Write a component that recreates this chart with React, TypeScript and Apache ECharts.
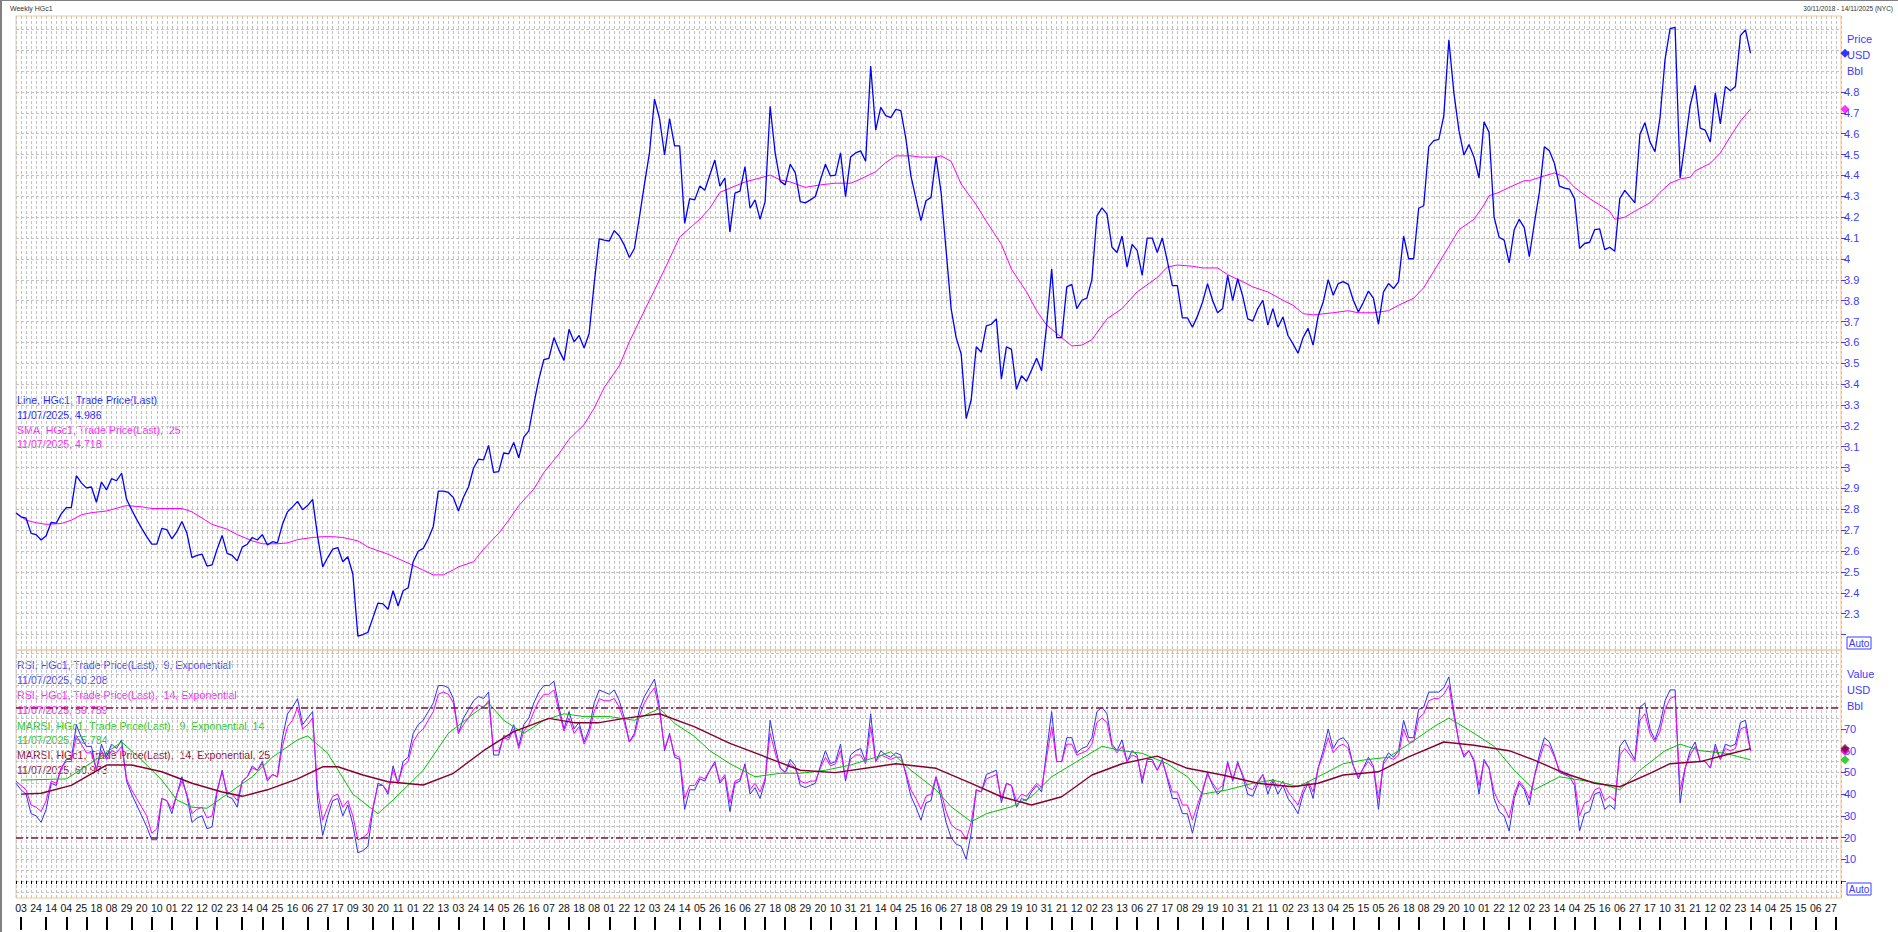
import React, { useEffect, useRef } from "react";
import * as echarts from "echarts";

// ---------- time axis (weekly, Friday closes) ----------
const DAY = 86400000;
const FIRST_FRIDAY = Date.UTC(2018, 10, 30); // 30/11/2018
const AXIS_WEEKS = 364; // through 14/11/2025
const weekDates: number[] = Array.from({ length: AXIS_WEEKS }, (_, i) => FIRST_FRIDAY + i * 7 * DAY);
const categories = weekDates.map((t) => new Date(t).toISOString().slice(0, 10));
const weekTickLabels = weekDates.map((t) => String(new Date(t - 4 * DAY).getUTCDate()).padStart(2, "0"));
const monthStartWeeks = weekDates.map((t) => new Date(t - 4 * DAY).getUTCDate() <= 7);

// ---------- price panel ----------
const price: number[] = [
  2.782, 2.764, 2.758, 2.685, 2.679, 2.653, 2.673, 2.738, 2.734, 2.778,
  2.808, 2.808, 2.961, 2.927, 2.903, 2.907, 2.834, 2.931, 2.893, 2.947,
  2.937, 2.973, 2.848, 2.798, 2.752, 2.709, 2.669, 2.633, 2.633, 2.709,
  2.703, 2.659, 2.693, 2.742, 2.685, 2.569, 2.579, 2.585, 2.528, 2.534,
  2.609, 2.675, 2.589, 2.579, 2.553, 2.619, 2.633, 2.665, 2.653, 2.679,
  2.629, 2.645, 2.639, 2.728, 2.788, 2.812, 2.838, 2.798, 2.818, 2.848,
  2.669, 2.524, 2.569, 2.609, 2.617, 2.549, 2.573, 2.490, 2.192, 2.200,
  2.211, 2.281, 2.351, 2.347, 2.321, 2.410, 2.337, 2.410, 2.424, 2.549,
  2.599, 2.613, 2.659, 2.718, 2.887, 2.887, 2.881, 2.856, 2.792, 2.858,
  2.907, 2.997, 3.041, 3.037, 3.106, 2.977, 2.981, 3.070, 3.066, 3.120,
  3.047, 3.146, 3.176, 3.305, 3.424, 3.518, 3.524, 3.623, 3.563, 3.514,
  3.663, 3.603, 3.633, 3.573, 3.643, 3.882, 4.096, 4.090, 4.086, 4.136,
  4.110, 4.066, 4.007, 4.050, 4.200, 4.359, 4.508, 4.766, 4.673, 4.498,
  4.673, 4.542, 4.542, 4.170, 4.289, 4.283, 4.349, 4.329, 4.402, 4.474,
  4.349, 4.388, 4.130, 4.315, 4.325, 4.442, 4.243, 4.283, 4.190, 4.275,
  4.732, 4.508, 4.373, 4.355, 4.454, 4.414, 4.275, 4.269, 4.283, 4.299,
  4.379, 4.454, 4.398, 4.402, 4.508, 4.299, 4.488, 4.508, 4.518, 4.468,
  4.925, 4.617, 4.726, 4.687, 4.677, 4.717, 4.711, 4.577, 4.398, 4.289,
  4.184, 4.279, 4.295, 4.488, 4.320, 4.041, 3.762, 3.623, 3.544, 3.235,
  3.325, 3.579, 3.553, 3.679, 3.687, 3.713, 3.424, 3.579, 3.567, 3.375,
  3.440, 3.414, 3.468, 3.524, 3.464, 3.683, 3.951, 3.623, 3.623, 3.866,
  3.878, 3.762, 3.802, 3.812, 3.901, 4.206, 4.245, 4.215, 4.056, 4.031,
  4.110, 3.961, 4.070, 4.041, 3.921, 4.100, 4.100, 4.031, 4.100, 3.991,
  3.872, 3.872, 3.718, 3.718, 3.673, 3.726, 3.792, 3.882, 3.802, 3.742,
  3.762, 3.921, 3.802, 3.905, 3.822, 3.713, 3.703, 3.762, 3.802, 3.683,
  3.762, 3.673, 3.722, 3.633, 3.593, 3.548, 3.623, 3.667, 3.587, 3.726,
  3.792, 3.901, 3.826, 3.882, 3.891, 3.878, 3.802, 3.746, 3.792, 3.846,
  3.812, 3.687, 3.842, 3.882, 3.858, 3.891, 4.110, 4.001, 4.001, 4.243,
  4.255, 4.538, 4.567, 4.573, 4.687, 5.050, 4.796, 4.617, 4.498, 4.548,
  4.488, 4.388, 4.657, 4.607, 4.200, 4.104, 4.090, 3.981, 4.140, 4.190,
  4.150, 4.011, 4.170, 4.319, 4.538, 4.518, 4.458, 4.349, 4.339, 4.335,
  4.289, 4.050, 4.074, 4.080, 4.140, 4.144, 4.045, 4.056, 4.037, 4.289,
  4.329, 4.299, 4.269, 4.597, 4.653, 4.561, 4.514, 4.677, 4.955, 5.104,
  5.110, 4.388, 4.557, 4.736, 4.832, 4.627, 4.617, 4.561, 4.796, 4.647,
  4.826, 4.806, 4.826, 5.070, 5.098, 4.986,
];

// SMA(25) read at [week index, value]
const sma25: [number, number][] = [
  [0, 2.782], [2, 2.748], [4, 2.736], [6, 2.728], [9, 2.732], [11, 2.748], [13, 2.774], [15, 2.784],
  [18, 2.792], [21, 2.812], [22, 2.818], [25, 2.812], [27, 2.804], [30, 2.804], [33, 2.804], [35, 2.788],
  [37, 2.758], [39, 2.728], [42, 2.705], [44, 2.679], [47, 2.649], [49, 2.635], [52, 2.635], [54, 2.639],
  [56, 2.655], [59, 2.665], [61, 2.669], [63, 2.669], [65, 2.665], [68, 2.649], [70, 2.619], [74, 2.585],
  [77, 2.553], [80, 2.52], [83, 2.486], [85, 2.486], [87, 2.51], [88, 2.524], [91, 2.549], [93, 2.609],
  [96, 2.685], [98, 2.748], [100, 2.818], [103, 2.897], [105, 2.977], [108, 3.066], [110, 3.136], [113, 3.206],
  [115, 3.285], [117, 3.384], [120, 3.488], [122, 3.603], [124, 3.703], [126, 3.802], [127, 3.85], [129, 3.95],
  [132, 4.105], [136, 4.19], [138, 4.243], [140, 4.319], [143, 4.349], [145, 4.369], [148, 4.388], [150, 4.402],
  [152, 4.379], [154, 4.369], [157, 4.343], [160, 4.355], [163, 4.363], [166, 4.363], [168, 4.383], [171, 4.418],
  [173, 4.462], [175, 4.494], [178, 4.494], [180, 4.488], [183, 4.488], [184, 4.494], [186, 4.468], [188, 4.359],
  [191, 4.259], [193, 4.18], [196, 4.07], [198, 3.951], [201, 3.842], [203, 3.752], [205, 3.683], [208, 3.623],
  [210, 3.583], [212, 3.587], [214, 3.613], [217, 3.713], [220, 3.762], [223, 3.842], [227, 3.911], [229, 3.961],
  [231, 3.971], [234, 3.965], [236, 3.957], [239, 3.957], [241, 3.925], [244, 3.891], [246, 3.866], [249, 3.842],
  [252, 3.802], [254, 3.778], [256, 3.738], [258, 3.732], [262, 3.742], [265, 3.752], [267, 3.742], [270, 3.742],
  [273, 3.752], [275, 3.778], [278, 3.812], [280, 3.862], [282, 3.941], [285, 4.06], [287, 4.14], [290, 4.19],
  [292, 4.259], [293, 4.303], [295, 4.319], [297, 4.343], [300, 4.375], [301, 4.375], [304, 4.398], [306, 4.412],
  [308, 4.394], [310, 4.343], [313, 4.289], [315, 4.259], [317, 4.229], [318, 4.19], [320, 4.2], [322, 4.229],
  [325, 4.269], [327, 4.319], [329, 4.363], [331, 4.383], [333, 4.392], [334, 4.422], [337, 4.458], [339, 4.508],
  [341, 4.587], [343, 4.661], [345, 4.718],
];

// ---------- RSI panel (weekly estimates read off the lower pane) ----------
const rsi9: number[] = [
  45, 42, 40, 31, 30, 27, 33, 45, 44, 52,
  56, 56, 72, 66, 62, 62, 51, 63, 57, 63,
  61, 65, 46, 40, 35, 30, 25, 19, 19, 38,
  37, 31, 40, 48, 39, 27, 29, 30, 24, 25,
  41, 51, 39, 38, 34, 46, 48, 53, 51, 55,
  46, 49, 48, 66, 77, 80, 84, 72, 75, 78,
  37, 21, 30, 37, 38, 30, 35, 26, 13, 14,
  16, 33, 45, 44, 40, 53, 45, 55, 57, 68,
  72, 74, 78, 82, 90, 90, 89, 84, 68, 75,
  79, 83, 85, 84, 87, 58, 58, 67, 66, 72,
  62, 72, 75, 82, 87, 90, 90, 92, 80, 70,
  78, 70, 73, 64, 70, 82, 88, 87, 86, 88,
  83, 75, 64, 68, 79, 85, 89, 93, 80, 60,
  68, 57, 56, 33, 42, 42, 47, 46, 51, 55,
  45, 48, 32, 45, 46, 54, 40, 43, 38, 46,
  74, 62, 52, 50, 56, 53, 44, 43, 44, 45,
  53, 60, 54, 55, 63, 46, 58, 60, 61, 55,
  77, 55, 60, 58, 57, 59, 58, 49, 39, 34,
  28, 36, 37, 48, 38, 27, 20, 17, 16, 10,
  22, 42, 41, 49, 50, 51, 36, 45, 44, 34,
  38, 37, 41, 44, 41, 60, 78, 55, 55, 66,
  66, 59, 61, 62, 66, 78, 80, 77, 63, 60,
  65, 55, 60, 58, 45, 56, 56, 51, 56, 47,
  38, 38, 31, 31, 22, 32, 41, 50, 44, 40,
  42, 55, 46, 55, 48, 40, 39, 45, 49, 40,
  46, 40, 44, 38, 35, 31, 40, 45, 38, 52,
  60, 70, 61, 65, 66, 63, 53, 47, 52, 57,
  53, 33, 55, 59, 57, 60, 74, 66, 66, 79,
  80, 87, 87, 87, 89, 94, 78, 64, 57, 60,
  55, 40, 56, 52, 38, 32, 30, 23, 38, 45,
  42, 35, 48, 58, 66, 64, 58, 50, 49, 48,
  44, 23, 31, 32, 40, 41, 33, 35, 33, 62,
  65, 60, 56, 80, 82, 70, 65, 72, 83, 88,
  88, 36, 52, 60, 64, 55, 55, 52, 63, 56,
  63, 62, 63, 73, 74, 60.208,
];

const rsi14: number[] = [
  46, 44, 42, 35, 34, 32, 37, 46, 45, 52,
  55, 55, 67, 63, 59, 59, 51, 60, 56, 60,
  59, 62, 47, 42, 38, 34, 30, 22, 24, 38,
  37, 33, 40, 46, 40, 31, 33, 34, 29, 30,
  42, 50, 41, 40, 37, 46, 48, 52, 51, 54,
  47, 49, 48, 62, 71, 74, 80, 70, 72, 75,
  42, 28, 34, 39, 40, 34, 37, 30, 19, 20,
  22, 34, 44, 44, 41, 51, 45, 53, 55, 64,
  68, 70, 74, 78, 86, 87, 86, 82, 68, 72,
  75, 79, 81, 80, 83, 60, 60, 66, 65, 70,
  61, 69, 72, 78, 83, 86, 86, 88, 78, 69,
  75, 68, 71, 63, 68, 78, 84, 83, 83, 84,
  80, 73, 64, 67, 76, 82, 86, 89, 78, 61,
  67, 58, 57, 38, 44, 44, 48, 47, 51, 54,
  46, 49, 36, 46, 47, 53, 42, 45, 41, 47,
  68, 59, 52, 50, 54, 52, 46, 45, 46, 46,
  52, 57, 53, 54, 60, 47, 56, 58, 58, 54,
  71, 55, 58, 57, 56, 57, 57, 50, 42, 38,
  33, 39, 40, 48, 41, 32, 26, 24, 23, 19,
  27, 42, 41, 47, 48, 49, 38, 45, 44, 37,
  40, 39, 42, 45, 43, 57, 71, 55, 55, 63,
  63, 58, 59, 60, 63, 73, 75, 73, 62, 59,
  62, 55, 58, 57, 47, 55, 55, 51, 55, 48,
  41, 41, 35, 35, 28, 35, 42, 49, 45, 42,
  44, 54, 47, 54, 49, 43, 42, 46, 49, 43,
  47, 43, 46, 41, 38, 35, 42, 46, 41, 52,
  58, 66, 59, 62, 63, 61, 53, 48, 52, 55,
  52, 38, 54, 57, 56, 58, 70, 64, 64, 75,
  77, 83, 84, 84, 86, 90, 76, 64, 58, 60,
  56, 44, 55, 52, 41, 36, 34, 29, 40, 46,
  43, 38, 48, 56, 63, 62, 57, 51, 50, 49,
  46, 30, 36, 37, 42, 43, 37, 39, 37, 58,
  61, 58, 55, 74, 77, 68, 64, 69, 79, 84,
  85, 42, 52, 58, 62, 55, 55, 52, 61, 56,
  61, 60, 61, 70, 71, 59.789,
];

const marsi9: [number, number][] = [
  [1, 46.5], [10, 47], [16, 56], [21, 64], [25, 55.7], [29, 46.5], [32, 37.3], [35, 34], [38, 33.5], [42, 40], [47, 48],
  [51, 57], [56, 65], [58, 66.8], [62, 58.8], [67, 40], [72, 31], [75, 37.3], [81, 51], [86, 68], [91, 77],
  [94, 82], [97, 74], [101, 68], [105, 74], [109, 77], [113, 75.7], [118, 75.7], [123, 74], [128, 79.5],
  [131, 72.6], [135, 66.5], [138, 60], [142, 54], [147, 48], [152, 49.6], [156, 49.6], [161, 51], [166, 53.4],
  [171, 57], [174, 59.5], [178, 51], [183, 42], [186, 34.2], [190, 27.3], [193, 31], [198, 34.2], [202, 38.8],
  [206, 48], [211, 55], [216, 62], [220, 60], [224, 58.8], [229, 54], [233, 48], [236, 40], [241, 42], [246, 45],
  [250, 46.5], [255, 43.4], [259, 48], [264, 54], [268, 55.7], [273, 57], [277, 63], [282, 71], [285, 75],
  [289, 69.5], [294, 62], [298, 51], [302, 42], [307, 48], [311, 46.5], [315, 45], [319, 42], [323, 51],
  [328, 60], [331, 63], [335, 60], [340, 58.8], [345, 55.784],
];

const marsi14: [number, number][] = [
  [1, 40], [5, 40.4], [11, 44], [18, 53.4], [23, 53.4], [29, 50.3], [35, 45], [41, 41], [45, 39], [50, 42],
  [56, 47], [61, 52.6], [64, 52.6], [69, 48.8], [74, 45.7], [81, 44.2], [87, 49.6], [93, 60], [99, 68.8],
  [106, 74.9], [111, 72.9], [116, 72.9], [121, 74.9], [128, 77], [135, 71], [142, 63.4], [149, 57.2], [156, 51],
  [163, 49.9], [171, 52.6], [175, 54], [183, 51.9], [190, 45], [196, 38.8], [202, 35], [208, 38.8], [214, 48.8],
  [220, 54], [227, 57.5], [233, 51.9], [240, 48.8], [247, 45], [254, 43.4], [259, 45], [264, 48.8], [271, 50.3],
  [277, 57.2], [284, 64], [290, 62.5], [297, 60], [302, 55.7], [308, 49.6], [314, 45], [319, 43.4], [325, 49.6],
  [329, 54], [335, 55], [340, 58], [345, 60.973],
];

// ---------- axis values ----------
const priceTickValues = [2.2, 2.3, 2.4, 2.5, 2.6, 2.7, 2.8, 2.9, 3, 3.1, 3.2, 3.3, 3.4, 3.5, 3.6, 3.7, 3.8, 3.9, 4, 4.1, 4.2, 4.3, 4.4, 4.5, 4.6, 4.7, 4.8];
const priceLabelValues = priceTickValues.slice(1);
const priceGridValues = [...priceTickValues, 4.9, 5, 5.1];
const rsiTickValues = [0, 10, 20, 30, 40, 50, 60, 70];
const rsiLabelValues = [10, 20, 30, 40, 50, 60, 70];
const rsiGridValues = [-5, 0, 5, 10, 15, 20, 25, 30, 35, 40, 45, 50, 55, 60, 65, 70, 75, 80, 85, 90, 95, 100, 105];

const LAST = 345;
const FONT = "'Liberation Sans', Arial, sans-serif";
const ORANGE = "#f8c590";
const GRID = "#c4c4c4";
const AXIS_BLUE = "#3c3cff";
const MAROON = "#8a0f3a";

export default function App() {
  const ref = useRef<HTMLDivElement>(null);

  useEffect(() => {
    if (!ref.current) return;
    const chart = echarts.init(ref.current, undefined, { renderer: "svg" });

    const gridSplit = { show: true, lineStyle: { color: GRID, type: [3, 2], width: 1 } };
    const txt = (x: number, y: number, text: string, color: string, size = 10.6, align = "left") => ({
      type: "text",
      x,
      y,
      silent: true,
      style: { text, fill: color, font: `${size}px ${FONT}`, textAlign: align, textVerticalAlign: "middle" },
    });

    const option: any = {
      animation: false,
      backgroundColor: "#ffffff",
      grid: [
        { left: 16, top: 16, width: 1825, height: 634, show: true, borderColor: ORANGE, borderWidth: 1, backgroundColor: "transparent" },
        { left: 16, top: 650, width: 1825, height: 248, show: true, borderColor: ORANGE, borderWidth: 1, backgroundColor: "transparent" },
        { left: 16, top: 917, width: 1825, height: 13, show: false },
      ],
      xAxis: [
        {
          type: "category", gridIndex: 0, data: categories, boundaryGap: false,
          axisLine: { show: false }, axisTick: { show: false }, axisLabel: { show: false },
          splitLine: { ...gridSplit, interval: 0 },
        },
        {
          type: "category", gridIndex: 1, data: categories, boundaryGap: false,
          axisLine: { show: false },
          axisTick: { show: true, interval: 0, length: 3, lineStyle: { color: "#000", width: 1 } },
          axisLabel: {
            show: true, interval: (i: number) => i % 3 === 1, formatter: (_v: string, i: number) => weekTickLabels[i],
            margin: 4, color: "#111", fontSize: 10.5, fontFamily: FONT,
          },
          splitLine: { ...gridSplit, interval: 0 },
        },
        {
          type: "category", gridIndex: 2, data: categories, boundaryGap: false,
          axisLine: { show: false }, axisTick: { show: false }, axisLabel: { show: false },
          splitLine: { show: true, interval: (i: number) => monthStartWeeks[i], lineStyle: { color: "#000", width: 2 } },
        },
      ],
      yAxis: [
        {
          type: "value", gridIndex: 0, position: "right", min: 2.1259, max: 5.1643,
          axisLine: { show: false },
          axisTick: { show: true, customValues: priceTickValues, length: 5, lineStyle: { color: AXIS_BLUE } },
          axisLabel: { customValues: priceLabelValues, margin: 3, color: AXIS_BLUE, fontSize: 11, fontFamily: FONT },
          splitLine: { show: false },
        },
        {
          type: "value", gridIndex: 0, position: "right", min: 2.1259, max: 5.1643,
          axisLine: { show: false }, axisTick: { show: false, customValues: priceGridValues }, axisLabel: { show: false },
          splitLine: gridSplit,
        },
        {
          type: "value", gridIndex: 1, position: "right", min: -7.83, max: 106.37,
          axisLine: { show: false },
          axisTick: { show: true, customValues: rsiTickValues, length: 5, lineStyle: { color: AXIS_BLUE } },
          axisLabel: { customValues: rsiLabelValues, margin: 3, color: AXIS_BLUE, fontSize: 11, fontFamily: FONT },
          splitLine: { show: false },
        },
        {
          type: "value", gridIndex: 1, position: "right", min: -7.83, max: 106.37,
          axisLine: { show: false }, axisTick: { show: false, customValues: rsiGridValues }, axisLabel: { show: false },
          splitLine: gridSplit,
        },
        { type: "value", gridIndex: 2, min: 0, max: 1, show: false },
      ],
      series: [
        { type: "line", name: "SMA", xAxisIndex: 0, yAxisIndex: 0, data: sma25, symbol: "none", connectNulls: true, lineStyle: { color: "#ff00ff", width: 1 }, z: 3 },
        { type: "line", name: "Line", xAxisIndex: 0, yAxisIndex: 0, data: price, symbol: "none", lineStyle: { color: "#0000ff", width: 1.3 }, z: 4 },
        {
          type: "scatter", xAxisIndex: 0, yAxisIndex: 0, clip: false, symbol: "diamond", symbolSize: 9, symbolOffset: [4, 0], z: 6,
          data: [
            { value: [AXIS_WEEKS - 1, sma25[sma25.length - 1][1]], itemStyle: { color: "#ff00ff" } },
            { value: [AXIS_WEEKS - 1, price[LAST]], itemStyle: { color: "#0000ff" } },
          ],
        },
        {
          type: "line", name: "RSI9", xAxisIndex: 1, yAxisIndex: 2, data: rsi9, symbol: "none", lineStyle: { color: "#3030ff", width: 1 }, z: 3,
          markLine: {
            silent: true, symbol: "none", label: { show: false },
            lineStyle: { color: MAROON, type: [7, 3, 2, 3], width: 1.5 },
            data: [{ yAxis: 80 }, { yAxis: 20 }],
          },
        },
        { type: "line", name: "RSI14", xAxisIndex: 1, yAxisIndex: 2, data: rsi14, symbol: "none", lineStyle: { color: "#ff00ff", width: 1 }, z: 3 },
        { type: "line", name: "MARSI9", xAxisIndex: 1, yAxisIndex: 2, data: marsi9, symbol: "none", lineStyle: { color: "#00c400", width: 1 }, z: 4 },
        { type: "line", name: "MARSI14", xAxisIndex: 1, yAxisIndex: 2, data: marsi14, symbol: "none", lineStyle: { color: "#880030", width: 1.4 }, z: 4 },
        {
          type: "scatter", xAxisIndex: 1, yAxisIndex: 2, clip: false, symbol: "diamond", symbolSize: 9, symbolOffset: [4, 0], z: 6,
          data: [
            { value: [AXIS_WEEKS - 1, rsi9[LAST]], itemStyle: { color: "#3030ff" } },
            { value: [AXIS_WEEKS - 1, marsi9[marsi9.length - 1][1]], itemStyle: { color: "#00c400" } },
            { value: [AXIS_WEEKS - 1, rsi14[LAST]], itemStyle: { color: "#ff00ff" } },
            { value: [AXIS_WEEKS - 1, marsi14[marsi14.length - 1][1]], itemStyle: { color: "#880030" } },
          ],
        },
      ],
      graphic: [
        txt(10, 8, "Weekly HGc1", "#333", 7),
        txt(1893, 8, "30/11/2018 - 14/11/2025 (NYC)", "#333", 6.5, "right"),
        txt(17, 400, "Line, HGc1, Trade Price(Last)", "#1e1eff"),
        txt(17, 414.5, "11/07/2025, 4.986", "#1e1eff"),
        txt(17, 429.5, "SMA, HGc1, Trade Price(Last),  25", "#ff22ff"),
        txt(17, 444, "11/07/2025, 4.718", "#ff22ff"),
        txt(17, 665, "RSI, HGc1, Trade Price(Last),  9, Exponential", "#4646ff"),
        txt(17, 680, "11/07/2025, 60.208", "#4646ff"),
        txt(17, 695, "RSI, HGc1, Trade Price(Last),  14, Exponential", "#ff22ff"),
        txt(17, 710, "11/07/2025, 59.789", "#ff22ff"),
        txt(17, 726, "MARSI, HGc1, Trade Price(Last),  9, Exponential, 14", "#22c822"),
        txt(17, 740, "11/07/2025, 55.784", "#22c822"),
        txt(17, 755, "MARSI, HGc1, Trade Price(Last),  14, Exponential, 25", "#8a1238"),
        txt(17, 770, "11/07/2025, 60.973", "#8a1238"),
        txt(1847, 39, "Price", AXIS_BLUE, 11),
        txt(1847, 55, "USD", AXIS_BLUE, 11),
        txt(1847, 71, "Bbl", AXIS_BLUE, 11),
        txt(1847, 674, "Value", AXIS_BLUE, 11),
        txt(1847, 690, "USD", AXIS_BLUE, 11),
        txt(1847, 706, "Bbl", AXIS_BLUE, 11),
        { type: "rect", shape: { x: 1847, y: 637, width: 24, height: 12 }, style: { fill: "#fff", stroke: AXIS_BLUE, lineWidth: 1 }, silent: true },
        txt(1859, 643, "Auto", AXIS_BLUE, 10, "center"),
        { type: "rect", shape: { x: 1847, y: 883, width: 24, height: 12 }, style: { fill: "#fff", stroke: AXIS_BLUE, lineWidth: 1 }, silent: true },
        txt(1859, 889, "Auto", AXIS_BLUE, 10, "center"),
      ],
    };

    chart.setOption(option);
    return () => chart.dispose();
  }, []);

  return (
    <div style={{ position: "fixed", left: 0, top: 0, width: 1898, height: 932, background: "#fff", overflow: "hidden" }}>
      <div ref={ref} style={{ position: "absolute", left: 0, top: 0, width: 1898, height: 932 }} />
      <div style={{ position: "absolute", left: 0, top: 0, width: 1898, height: 1, background: "#808080", pointerEvents: "none" }} />
      <div style={{ position: "absolute", left: 0, top: 0, width: 2, height: 932, background: "#808080", pointerEvents: "none" }} />
    </div>
  );
}
